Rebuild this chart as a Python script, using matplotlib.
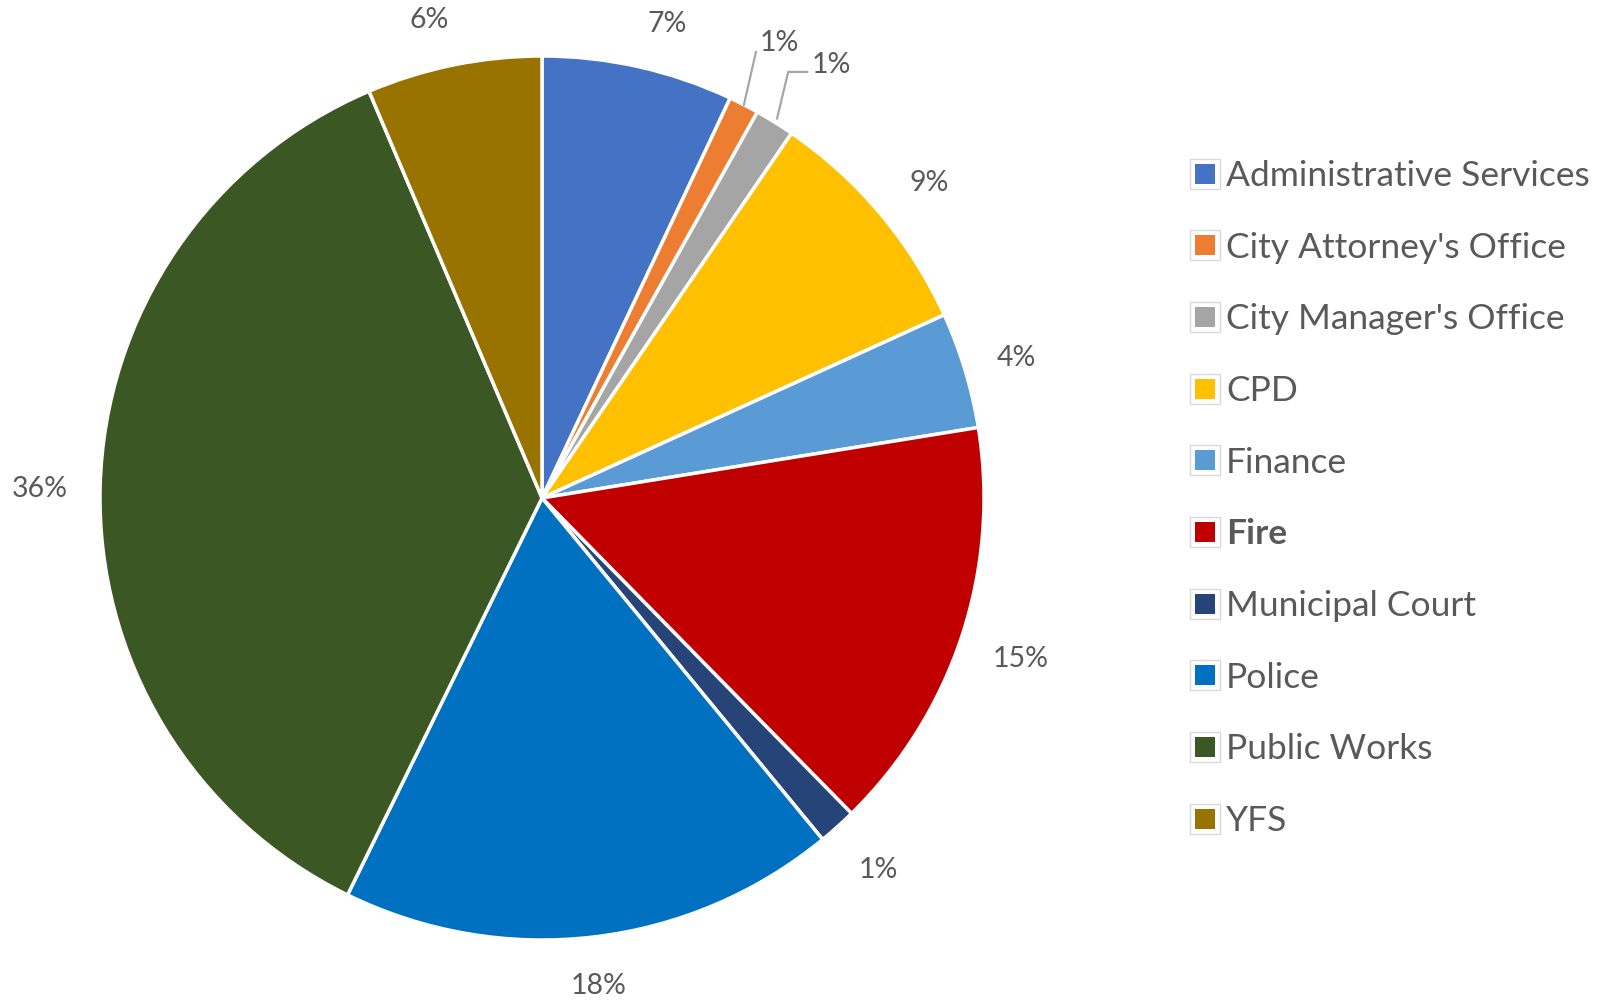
import numpy as np
import matplotlib
matplotlib.use("Agg")
import matplotlib.pyplot as plt
from matplotlib.lines import Line2D
from matplotlib.legend_handler import HandlerTuple

categories = ["Administrative Services", "City Attorney's Office", "City Manager's Office",
              "CPD", "Finance", "Fire", "Municipal Court", "Police", "Public Works", "YFS"]
values = [7.0, 1.1, 1.45, 8.65, 4.25, 15.2, 1.4, 18.2, 36.35, 6.4]
pct_labels = ["7%", "1%", "1%", "9%", "4%", "15%", "1%", "18%", "36%", "6%"]
colors = ["#4472C4", "#ED7D31", "#A5A5A5", "#FFC000", "#5B9BD5",
          "#C00000", "#264478", "#0070C0", "#3A5724", "#997300"]

plt.rcParams['font.family'] = ['Lato', 'DejaVu Sans']
TXT = "#595959"

W, H = 1601, 1002
fig = plt.figure(figsize=(W / 100, H / 100), dpi=100)
cx, cy, R = 542, 498, 442
ax = fig.add_axes([(cx - R) / W, (H - cy - R) / H, 2 * R / W, 2 * R / H])

wedges, _ = ax.pie(values, colors=colors, startangle=90, counterclock=False, radius=1.0,
                   wedgeprops=dict(edgecolor='white', linewidth=2.5))
ax.set_xlim(-1, 1)
ax.set_ylim(-1, 1)
ax.set_aspect('equal')
ax.axis('off')

total = sum(values)
fracs = np.array(values) / total
cum = np.cumsum(fracs) - fracs / 2

FS = 20.5
# small placement nudges (pixels) mimicking the best-fit label layout
nudge = {0: (19, 1), 3: (8, 0), 6: (6, 0), 9: (-15, 4)}
renderer = fig.canvas.get_renderer()
for i, (m, lab) in enumerate(zip(cum, pct_labels)):
    th = np.deg2rad(90 - 360 * m)
    if i == 1:
        p0 = (1.0 * np.cos(th), 1.0 * np.sin(th))
        p1 = (0.484, 1.009)
        ax.plot([p0[0], p1[0]], [p0[1], p1[1]], color="#A6A6A6", lw=1.6, clip_on=False)
        ax.text(0.538, 1.012, lab, ha='center', va='baseline', fontsize=FS, color=TXT)
    elif i == 2:
        p0 = (1.01 * np.cos(th), 1.01 * np.sin(th))
        p1 = (0.557, 0.964)
        p2 = (0.600, 0.964)
        ax.plot([p0[0], p1[0], p2[0]], [p0[1], p1[1], p2[1]], color="#A6A6A6", lw=1.6,
                clip_on=False)
        ax.text(0.611, 0.962, lab, ha='left', va='baseline', fontsize=FS, color=TXT)
    else:
        t = ax.text(0, 0, lab, ha='center', va='center', fontsize=FS, color=TXT)
        bb = t.get_window_extent(renderer=renderer)
        hw = bb.width / 2 / R
        hh = bb.height / 2 / R * 0.8
        d = 1.072 + hw * abs(np.cos(th)) + hh * abs(np.sin(th))
        nx, ny = nudge.get(i, (0, 0))
        t.set_position((d * np.cos(th) + nx / R, d * np.sin(th) - 0.009 + ny / R))

handles = []
for c in colors:
    outer = Line2D([], [], linestyle='none', marker='s', markersize=21,
                   markerfacecolor='white', markeredgecolor='#D9D9D9', markeredgewidth=1.0)
    inner = Line2D([], [], linestyle='none', marker='s', markersize=13.7,
                   markerfacecolor=c, markeredgecolor=c, markeredgewidth=0)
    handles.append((outer, inner))

leg = fig.legend(handles, categories, handler_map={tuple: HandlerTuple(ndivide=1)},
                 loc='upper left', bbox_to_anchor=(1190 / W, 1 - 160 / H),
                 frameon=False, fontsize=25.5, labelcolor=TXT, handlelength=0.82,
                 handletextpad=0.2, labelspacing=1.12, borderpad=0, borderaxespad=0)
leg.get_texts()[5].set_fontweight('bold')

fig.savefig("out.png", dpi=100, facecolor='white')
